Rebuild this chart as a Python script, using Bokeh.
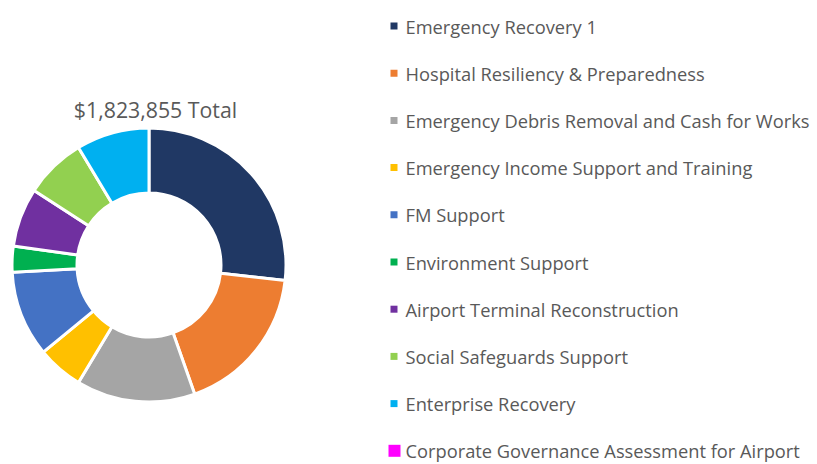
import math
from bokeh.plotting import figure
from bokeh.models import Range1d, ColumnDataSource
from bokeh.core.properties import value
from bokeh.embed import file_html
from bokeh.resources import INLINE

categories = [
    "Emergency Recovery 1",
    "Hospital Resiliency & Preparedness",
    "Emergency Debris Removal and Cash for Works",
    "Emergency Income Support and Training",
    "FM Support",
    "Environment Support",
    "Airport Terminal Reconstruction",
    "Social Safeguards Support",
    "Enterprise Recovery",
    "Corporate Governance Assessment for Airport",
]
amounts = [488900, 324240, 255840, 98790, 184920, 55730, 126650, 131720, 157065, 0]
colors = ["#203864", "#ED7D31", "#A5A5A5", "#FFC000", "#4472C4",
          "#00B050", "#7030A0", "#92D050", "#00B0F0", "#FF00FF"]

total = sum(amounts)
title_text = "${:,} Total".format(total)

W, H = 817, 464
p = figure(width=W, height=H, output_backend="svg", toolbar_location=None,
           x_range=Range1d(0, W), y_range=Range1d(0, H),
           min_border=0, border_fill_color="white", background_fill_color="white")
p.axis.visible = False
p.grid.visible = False
p.outline_line_color = None

def sy(y):
    # screen y (from top) -> data y
    return H - y

# donut
cx, cy = 148.5, sy(264.5)
r_in, r_out = 72, 137
starts, ends = [], []
cum = 0
for a in amounts:
    starts.append(math.pi / 2 - 2 * math.pi * cum / total)
    cum += a
    ends.append(math.pi / 2 - 2 * math.pi * cum / total)
idx = [i for i, a in enumerate(amounts) if a > 0]
src_pos = ColumnDataSource(dict(start=[starts[i] for i in idx], end=[ends[i] for i in idx],
                                color=[colors[i] for i in idx]))
p.annular_wedge(x=cx, y=cy, inner_radius=r_in, outer_radius=r_out,
                start_angle="start", end_angle="end", direction="clock",
                fill_color="color", line_color="white", line_width=3,
                source=src_pos)

text_color = "#595959"
font = value("Open Sans")
p.text(x=[155], y=[sy(108.5)], text=[title_text], text_align="center",
       text_baseline="middle", text_font=font, text_font_size="21.3px",
       text_color=text_color)

# legend
row_y = [25.5 + 47.2 * i for i in range(len(categories))]
sizes = [7] * 9 + [12]
xs = [393.5] * 9 + [394]
p.scatter(x=xs, y=[sy(y) for y in row_y], size=sizes,
          marker="square", fill_color=colors, line_color=None)
p.text(x=[405] * len(categories), y=[sy(y) for y in row_y], text=categories,
       text_align="left", text_baseline="middle", text_font=font,
       text_font_size="18.3px", text_color=text_color)

open("out.html", "w").write(file_html(p, INLINE))
